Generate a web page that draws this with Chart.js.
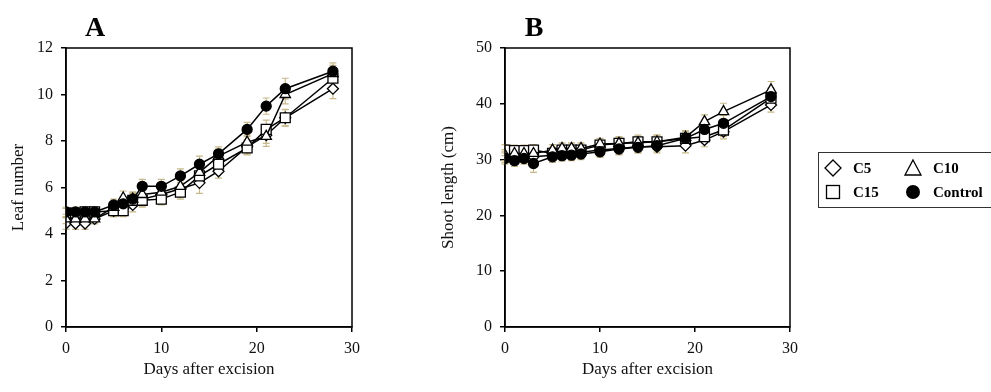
<!DOCTYPE html>
<html>
<head>
<meta charset="utf-8">
<script src="https://cdn.jsdelivr.net/npm/chart.js@4.4.1/dist/chart.umd.min.js"></script>
<style>
  body { margin: 0; background: #fff; }
  #boxA { position: absolute; left: 0; top: 0; }
  #boxB { position: absolute; left: 420px; top: 0; }
</style>
</head>
<body>
<canvas id="boxA" width="420" height="392"></canvas>
<canvas id="boxB" width="571" height="392"></canvas>
<script>
// days after excision (shared by both panels)
const days = [0, 1, 2, 3, 5, 6, 7, 8, 10, 12, 14, 16, 19, 21, 23, 28];

// A - leaf number
const leafControl = [4.95, 4.95, 4.95, 4.95, 5.25, 5.3, 5.5, 6.05, 6.05, 6.5, 7.0, 7.45, 8.5, 9.5, 10.25, 11.0];
const leafC10 = [4.65, 4.65, 4.65, 4.65, 5.15, 5.55, 5.5, 5.7, 5.8, 6.05, 6.65, 7.35, 7.95, 8.2, 10.0, 10.9];
const leafC15 = [4.9, 4.9, 4.95, 4.95, 5.0, 5.0, 5.45, 5.45, 5.5, 5.8, 6.5, 7.0, 7.7, 8.5, 9.0, 10.7];
const leafC5 = [4.45, 4.45, 4.45, 4.65, 5.0, 5.1, 5.25, 5.5, 5.7, 5.95, 6.2, 6.7, 7.75, 8.25, 9.0, 10.25];
// A - error bars
const leafErrControl = [0.2, 0.2, 0.2, 0.2, 0.25, 0.3, 0.3, 0.3, 0.3, 0.3, 0.35, 0.3, 0.3, 0.35, 0.45, 0.36];
const leafErrC10 = [0.2, 0.2, 0.2, 0.2, 0.25, 0.3, 0.3, 0.3, 0.3, 0.3, 0.3, 0.3, 0.3, 0.43, 0.4, 0.35];
const leafErrC15 = [0.2, 0.2, 0.2, 0.2, 0.25, 0.25, 0.3, 0.3, 0.25, 0.3, 0.3, 0.3, 0.3, 0.4, 0.36, 0.35];
const leafErrC5 = [0.25, 0.25, 0.25, 0.2, 0.25, 0.25, 0.3, 0.3, 0.3, 0.35, 0.45, 0.3, 0.3, 0.35, 0.35, 0.43];

// B - shoot length (cm)
const shootControl = [30.2, 29.8, 30.2, 29.3, 30.5, 30.7, 30.8, 31.0, 31.4, 31.9, 32.2, 32.5, 33.8, 35.4, 36.5, 41.3];
const shootC10 = [30.8, 31.1, 31.1, 31.1, 31.7, 32.0, 32.0, 32.0, 32.8, 32.9, 33.0, 33.2, 34.0, 36.8, 38.6, 42.5];
const shootC15 = [31.7, 31.6, 31.6, 31.7, 31.1, 31.7, 31.7, 31.7, 32.6, 32.9, 33.2, 33.2, 33.8, 34.1, 35.3, 41.0];
const shootC5 = [30.5, 30.2, 30.5, 30.5, 30.8, 31.0, 31.1, 31.3, 31.7, 32.0, 32.3, 32.3, 32.5, 33.5, 35.0, 39.8];
// B - error bars
const shootErrControl = [1.0, 1.0, 1.0, 1.6, 1.0, 1.0, 1.0, 1.0, 1.0, 1.0, 1.0, 1.0, 1.2, 1.2, 1.4, 1.5];
const shootErrC10 = [1.0, 1.0, 1.0, 1.0, 1.0, 1.0, 1.0, 1.0, 1.0, 1.0, 1.1, 1.2, 1.2, 1.2, 1.5, 1.5];
const shootErrC15 = [1.0, 1.0, 1.0, 1.0, 1.1, 1.1, 1.1, 1.1, 1.1, 1.2, 1.2, 1.2, 1.2, 1.2, 1.2, 1.3];
const shootErrC5 = [1.0, 1.0, 1.0, 1.0, 1.0, 1.0, 1.0, 1.0, 1.1, 1.1, 1.1, 1.1, 1.3, 1.2, 1.3, 1.3];

const SERIF = '"Liberation Serif", "Times New Roman", serif';

function pts(vals) {
    return days.map((d, i) => ({ x: d, y: vals[i] }));
}

function makeSets(control, c10, c15, c5, errs) {
    // index 0 is drawn on top
    const base = { borderColor: '#000', borderWidth: 1.5, pointBorderWidth: 1.3, pointBorderColor: '#000' };
    return [
        Object.assign({ label: 'Control', data: pts(control), err: errs[0], pointStyle: 'circle', pointRadius: 5, pointBackgroundColor: '#000' }, base),
        Object.assign({ label: 'C10', data: pts(c10), err: errs[1], pointStyle: 'triangle', pointRadius: 6, pointBackgroundColor: '#fff' }, base),
        Object.assign({ label: 'C15', data: pts(c15), err: errs[2], pointStyle: 'rect', pointRadius: 7, pointBackgroundColor: '#fff' }, base),
        Object.assign({ label: 'C5', data: pts(c5), err: errs[3], pointStyle: 'rectRot', pointRadius: 5.5, pointBackgroundColor: '#fff' }, base)
    ];
}

// error bars under the markers
const errorBars = {
    id: 'errorBars',
    beforeDatasetsDraw(chart) {
        const ctx = chart.ctx;
        const xs = chart.scales.x, ys = chart.scales.y;
        ctx.save();
        ctx.strokeStyle = '#c8b98c';
        ctx.lineWidth = 1.2;
        chart.data.datasets.forEach(ds => {
            ds.data.forEach((p, i) => {
                const x = xs.getPixelForValue(p.x);
                const top = ys.getPixelForValue(p.y + ds.err[i]);
                const bot = ys.getPixelForValue(p.y - ds.err[i]);
                ctx.beginPath();
                ctx.moveTo(x, top); ctx.lineTo(x, bot);
                ctx.moveTo(x - 3.5, top); ctx.lineTo(x + 3.5, top);
                ctx.moveTo(x - 3.5, bot); ctx.lineTo(x + 3.5, bot);
                ctx.stroke();
            });
        });
        ctx.restore();
    }
};

// frame round the plot area + panel letter
const frame = {
    id: 'frame',
    afterDraw(chart, args, opts) {
        const ctx = chart.ctx;
        const a = chart.chartArea;
        ctx.save();
        ctx.strokeStyle = '#000';
        ctx.lineWidth = 1.5;
        ctx.strokeRect(a.left, a.top, a.right - a.left, a.bottom - a.top);
        ctx.fillStyle = '#000';
        ctx.font = 'bold 28px ' + SERIF;
        ctx.textAlign = 'center';
        ctx.fillText(opts.letter, a.left + 29, 36);
        ctx.restore();
    }
};

// legend box on the right of panel B
const sideLegend = {
    id: 'sideLegend',
    afterDraw(chart) {
        const ctx = chart.ctx;
        ctx.save();
        ctx.strokeStyle = '#333';
        ctx.lineWidth = 1;
        ctx.strokeRect(398.5, 152.5, 200, 55);
        ctx.lineWidth = 1.3;
        ctx.strokeStyle = '#000';
        // diamond
        ctx.beginPath();
        ctx.moveTo(413, 160); ctx.lineTo(421, 168); ctx.lineTo(413, 176); ctx.lineTo(405, 168); ctx.closePath();
        ctx.stroke();
        // triangle
        ctx.beginPath();
        ctx.moveTo(493, 160); ctx.lineTo(501, 175); ctx.lineTo(485, 175); ctx.closePath();
        ctx.stroke();
        // square
        ctx.strokeRect(406.5, 185.5, 13, 13);
        // filled circle
        ctx.fillStyle = '#000';
        ctx.beginPath();
        ctx.arc(493, 192, 7, 0, Math.PI * 2);
        ctx.fill();

        ctx.font = 'bold 15px ' + SERIF;
        ctx.textBaseline = 'middle';
        ctx.fillText('C5', 433, 169);
        ctx.fillText('C10', 513, 169);
        ctx.fillText('C15', 433, 193);
        ctx.fillText('Control', 513, 193);
        ctx.restore();
    }
};

function makeChart(id, datasets, yMax, yStep, yTitle, letter, yWidth, yTitlePad, rightPad, extra) {
    return new Chart(document.getElementById(id), {
        type: 'line',
        data: { datasets: datasets },
        plugins: [errorBars, frame].concat(extra),
        options: {
            responsive: false,
            animation: false,
            layout: { padding: { left: 0, right: rightPad, top: 48, bottom: 0 } },
            plugins: {
                legend: { display: false },
                tooltip: { enabled: false },
                frame: { letter: letter }
            },
            scales: {
                x: {
                    type: 'linear',
                    min: 0, max: 30,
                    ticks: { stepSize: 10, color: '#111', padding: 7, maxRotation: 0, font: { family: SERIF, size: 16 } },
                    grid: { display: true, drawOnChartArea: false, drawTicks: true, tickLength: 5, color: '#000', lineWidth: 1.5 },
                    border: { display: true, color: '#000', width: 1.5 },
                    title: { display: true, text: 'Days after excision', color: '#111', padding: { top: 0, bottom: 12 }, font: { family: SERIF, size: 17 } },
                    afterFit: function(s) { s.height = 65; }
                },
                y: {
                    min: 0, max: yMax,
                    ticks: { stepSize: yStep, color: '#111', padding: 8, font: { family: SERIF, size: 16 } },
                    grid: { display: true, drawOnChartArea: false, drawTicks: true, tickLength: 5, color: '#000', lineWidth: 1.5 },
                    border: { display: true, color: '#000', width: 1.5 },
                    title: { display: true, text: yTitle, color: '#111', padding: { top: yTitlePad, bottom: 0 }, font: { family: SERIF, size: 17 } },
                    afterFit: function(s) { s.width = yWidth; }
                }
            }
        }
    });
}

const chartA = makeChart('boxA',
    makeSets(leafControl, leafC10, leafC15, leafC5, [leafErrControl, leafErrC10, leafErrC15, leafErrC5]),
    12, 2, 'Leaf number', 'A', 66, 8, 68, []);

const chartB = makeChart('boxB',
    makeSets(shootControl, shootC10, shootC15, shootC5, [shootErrControl, shootErrC10, shootErrC15, shootErrC5]),
    50, 10, 'Shoot length (cm)', 'B', 85, 18, 201, [sideLegend]);
</script>
</body>
</html>
